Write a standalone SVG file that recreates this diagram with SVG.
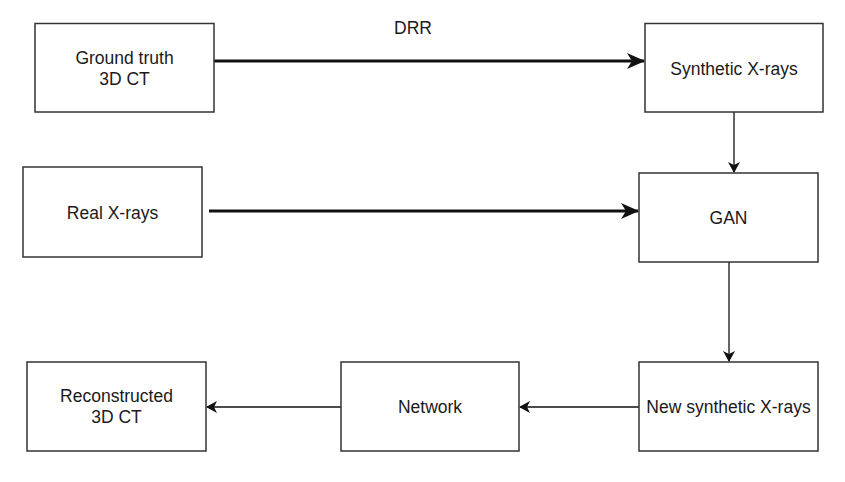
<svg xmlns="http://www.w3.org/2000/svg" width="845" height="482" viewBox="0 0 845 482">
<style>
.box{fill:#fff;stroke:#333;stroke-width:1.5}
.t{font-family:"Liberation Sans",Arial,sans-serif;font-size:17.5px;fill:#1a1a1a;text-anchor:middle}
.thin{stroke:#111;stroke-width:1.3;fill:none}
.thick{stroke:#111;stroke-width:3;fill:none}
</style>
<defs>
<marker id="ah" markerWidth="12" markerHeight="12" refX="10" refY="6" orient="auto" markerUnits="userSpaceOnUse">
<path d="M0,0 L11,6 L0,12 L3,6 Z" fill="#111"/>
</marker>
<marker id="ahb" markerWidth="18" markerHeight="16" refX="17" refY="8" orient="auto" markerUnits="userSpaceOnUse">
<path d="M0,0 L18,8 L0,16 L5,8 Z" fill="#111"/>
</marker>
</defs>
<rect width="845" height="482" fill="#fff"/>
<g id="connectors">
<line class="thick" x1="214" y1="61" x2="644" y2="61" marker-end="url(#ahb)"/>
<text class="t" x="413" y="34">DRR</text>
<line class="thick" x1="209" y1="211" x2="638" y2="211" marker-end="url(#ahb)"/>
<line class="thin" x1="734" y1="112" x2="734" y2="172" marker-end="url(#ah)"/>
<line class="thin" x1="729" y1="262" x2="729" y2="361" marker-end="url(#ah)"/>
<line class="thin" x1="639" y1="407" x2="520" y2="407" marker-end="url(#ah)"/>
<line class="thin" x1="341" y1="407" x2="207" y2="407" marker-end="url(#ah)"/>
</g>
<g id="ground-truth">
<rect class="box" x="35" y="23.5" width="179" height="88.5"/>
<text class="t" x="124.5" y="64">Ground truth</text>
<text class="t" x="124.5" y="85">3D CT</text>
</g>
<g id="synthetic-xrays">
<rect class="box" x="645" y="23.5" width="178" height="88.5"/>
<text class="t" x="734" y="75">Synthetic X-rays</text>
</g>
<g id="real-xrays">
<rect class="box" x="23" y="167" width="179" height="90"/>
<text class="t" x="112.5" y="219">Real X-rays</text>
</g>
<g id="gan">
<rect class="box" x="639" y="173" width="179" height="89"/>
<text class="t" x="728.5" y="224">GAN</text>
</g>
<g id="reconstructed">
<rect class="box" x="27" y="362" width="179" height="89"/>
<text class="t" x="116.5" y="402">Reconstructed</text>
<text class="t" x="116.5" y="423">3D CT</text>
</g>
<g id="network">
<rect class="box" x="341" y="362" width="178" height="89"/>
<text class="t" x="430" y="413">Network</text>
</g>
<g id="new-synthetic">
<rect class="box" x="639" y="362" width="179" height="89"/>
<text class="t" x="728.5" y="413">New synthetic X-rays</text>
</g>
</svg>
